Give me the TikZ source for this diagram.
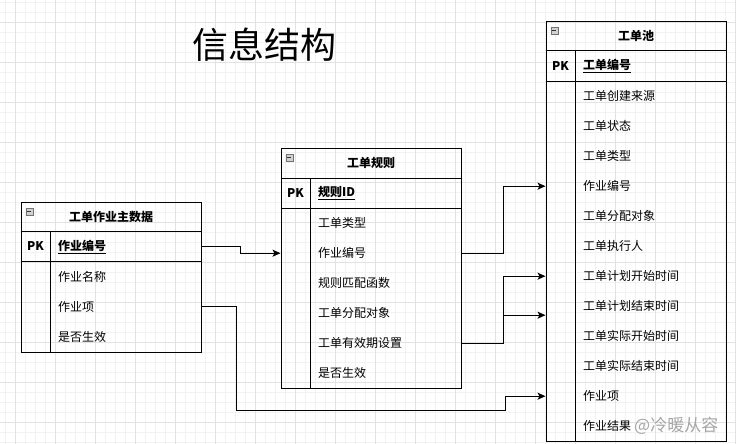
\documentclass[tikz,border=0pt]{standalone}
\usepackage{fontspec}
\setmainfont{Noto Sans CJK SC}
\usetikzlibrary{arrows.meta}
\definecolor{gridminor}{HTML}{F2F2F2}
\definecolor{gridmajor}{HTML}{E2E2E2}
\begin{document}
\begin{tikzpicture}[x=1pt,y=-1pt,
  font=\fontsize{12}{14}\selectfont,
  conn/.style={draw=black, line width=1pt, -{Stealth[length=8pt,width=7pt,inset=2pt]}},
  plain/.style={draw=black, line width=1pt},
  frame/.style={draw=black, line width=1pt, anchor=north west, minimum width=180pt, inner sep=0pt},
  hdr/.style={font=\fontsize{12}{14}\selectfont\bfseries, inner sep=0pt},
  pk/.style={font=\fontsize{12}{14}\selectfont\bfseries, inner sep=0pt},
  field/.style={anchor=north west, minimum height=30pt, text width=135pt, inner xsep=7.5pt, inner ysep=0pt, align=left},
  icon/.style={anchor=north west, draw=black!55, fill=black!18, line width=0.6pt, minimum size=7pt, inner sep=0pt,
    path picture={\draw[line width=0.9pt, black!80] ([xshift=1.6pt]path picture bounding box.west) -- ([xshift=-1.6pt]path picture bounding box.east);}}
]
\useasboundingbox (0,0) rectangle (736,444);
% grid
\begin{scope}
\clip (0,0) rectangle (736,444);
\fill[white] (0,0) rectangle (736,444);
\foreach \x in {5,15,...,735} \draw[gridminor, line width=0.8pt] (\x,0) -- (\x,444);
\foreach \y in {2,12,...,442} \draw[gridminor, line width=0.8pt] (0,\y) -- (736,\y);
\foreach \x in {15,55,...,735} \draw[gridmajor, line width=0.8pt] (\x,0) -- (\x,444);
\foreach \y in {22,62,...,422} \draw[gridmajor, line width=0.8pt] (0,\y) -- (736,\y);
\end{scope}

% title
\node[font=\fontsize{36}{40}\selectfont] (title) at (264,45) {信息结构};

% ---------- left table ----------
\node[frame, minimum height=150pt] (L) at (20.5,201.5) {};
\draw[plain] ([yshift=-30pt]L.north west) -- ([yshift=-30pt]L.north east);
\draw[plain] ([yshift=-60pt]L.north west) -- ([yshift=-60pt]L.north east);
\draw[plain] ([xshift=30pt,yshift=-30pt]L.north west) -- ([xshift=30pt]L.south west);
\node[icon] (Li) at ([xshift=5pt,yshift=-6pt]L.north west) {};
\node[hdr] (Lh) at ([yshift=-15pt]L.north) {工单作业主数据};
\node[pk] (Lpk) at ([xshift=15pt,yshift=-45pt]L.north west) {PK};
\node[field] (L1) at ([xshift=30pt,yshift=-30pt]L.north west) {\textbf{\underline{作业编号}}};
\node[field] (L2) at ([xshift=30pt,yshift=-60pt]L.north west) {作业名称};
\node[field] (L3) at ([xshift=30pt,yshift=-90pt]L.north west) {作业项};
\node[field] (L4) at ([xshift=30pt,yshift=-120pt]L.north west) {是否生效};

% ---------- middle table ----------
\node[frame, minimum height=240pt] (M) at (280.5,148) {};
\draw[plain] ([yshift=-30pt]M.north west) -- ([yshift=-30pt]M.north east);
\draw[plain] ([yshift=-60pt]M.north west) -- ([yshift=-60pt]M.north east);
\draw[plain] ([xshift=30pt,yshift=-30pt]M.north west) -- ([xshift=30pt]M.south west);
\node[icon] (Mi) at ([xshift=5pt,yshift=-6pt]M.north west) {};
\node[hdr] (Mh) at ([yshift=-15pt]M.north) {工单规则};
\node[pk] (Mpk) at ([xshift=15pt,yshift=-45pt]M.north west) {PK};
\node[field] (M1) at ([xshift=30pt,yshift=-30pt]M.north west) {\textbf{\underline{规则ID}}};
\node[field] (M2) at ([xshift=30pt,yshift=-60pt]M.north west) {工单类型};
\node[field] (M3) at ([xshift=30pt,yshift=-90pt]M.north west) {作业编号};
\node[field] (M4) at ([xshift=30pt,yshift=-120pt]M.north west) {规则匹配函数};
\node[field] (M5) at ([xshift=30pt,yshift=-150pt]M.north west) {工单分配对象};
\node[field] (M6) at ([xshift=30pt,yshift=-180pt]M.north west) {工单有效期设置};
\node[field] (M7) at ([xshift=30pt,yshift=-210pt]M.north west) {是否生效};

% ---------- right table ----------
\node[frame, minimum height=420pt] (R) at (545.5,21) {};
\draw[plain] ([yshift=-30pt]R.north west) -- ([yshift=-30pt]R.north east);
\draw[plain] ([yshift=-60pt]R.north west) -- ([yshift=-60pt]R.north east);
\draw[plain] ([xshift=30pt,yshift=-30pt]R.north west) -- ([xshift=30pt]R.south west);
\node[icon] (Ri) at ([xshift=5pt,yshift=-6pt]R.north west) {};
\node[hdr] (Rh) at ([yshift=-15pt]R.north) {工单池};
\node[pk] (Rpk) at ([xshift=15pt,yshift=-45pt]R.north west) {PK};
\node[field] (R1) at ([xshift=30pt,yshift=-30pt]R.north west) {\textbf{\underline{工单编号}}};
\node[field] (R2) at ([xshift=30pt,yshift=-60pt]R.north west) {工单创建来源};
\node[field] (R3) at ([xshift=30pt,yshift=-90pt]R.north west) {工单状态};
\node[field] (R4) at ([xshift=30pt,yshift=-120pt]R.north west) {工单类型};
\node[field] (R5) at ([xshift=30pt,yshift=-150pt]R.north west) {作业编号};
\node[field] (R6) at ([xshift=30pt,yshift=-180pt]R.north west) {工单分配对象};
\node[field] (R7) at ([xshift=30pt,yshift=-210pt]R.north west) {工单执行人};
\node[field] (R8) at ([xshift=30pt,yshift=-240pt]R.north west) {工单计划开始时间};
\node[field] (R9) at ([xshift=30pt,yshift=-270pt]R.north west) {工单计划结束时间};
\node[field] (R10) at ([xshift=30pt,yshift=-300pt]R.north west) {工单实际开始时间};
\node[field] (R11) at ([xshift=30pt,yshift=-330pt]R.north west) {工单实际结束时间};
\node[field] (R12) at ([xshift=30pt,yshift=-360pt]R.north west) {作业项};
\node[field] (R13) at ([xshift=30pt,yshift=-390pt]R.north west) {作业结果};

% watermark
\node[text=black!35, font=\fontsize{17}{20}\selectfont, anchor=west, inner sep=0pt] (wm) at (634,426) {@冷暖从容};

% ---------- connectors ----------
\draw[conn] (L1.east) -- ++(40,0) |- (M3.west -| M.west);
\draw[conn] (M3.east) -- ++(43,0) |- (R5.west -| R.west);
\draw[conn] (M6.east) -- ++(43,0) |- (R8.west -| R.west);
\draw[conn] (M6.east) -- ++(43,0) |- ([yshift=-9pt]R9.west -| R.west);
\draw[conn] (L3.east) -- ++(36,0) -- ++(0,104) -| ([xshift=-40pt]R12.west -| R.west) -- (R12.west -| R.west);
\end{tikzpicture}
\end{document}
